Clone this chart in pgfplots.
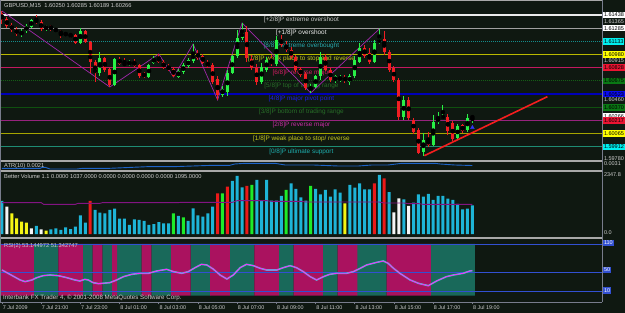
\documentclass[border=0pt]{standalone}
\usepackage{pgfplots}
\pgfplotsset{compat=1.18}
\usepackage{pgfplotstable}
\usepackage{fontspec}
\setmainfont{Liberation Sans}

\definecolor{bg}{RGB}{15,24,17}
\definecolor{sepgray}{RGB}{168,168,168}
\definecolor{axgray}{RGB}{120,124,140}
\definecolor{txt}{RGB}{205,205,205}
\definecolor{bull}{RGB}{40,240,70}
\definecolor{bear}{RGB}{240,30,35}
\definecolor{zz}{RGB}{160,40,170}
\definecolor{trend}{RGB}{245,30,30}
\definecolor{mA}{RGB}{235,235,235}
\definecolor{mB}{RGB}{160,160,160}
\definecolor{mC}{RGB}{20,140,140}
\definecolor{mD}{RGB}{185,185,0}
\definecolor{mE}{RGB}{195,25,95}
\definecolor{mF}{RGB}{20,95,20}
\definecolor{mG}{RGB}{0,0,185}
\definecolor{mH}{RGB}{15,80,15}
\definecolor{mI}{RGB}{150,35,125}
\definecolor{mJ}{RGB}{165,165,0}
\definecolor{mK}{RGB}{30,140,115}
\definecolor{tA}{RGB}{200,200,200}
\definecolor{tB}{RGB}{235,235,235}
\definecolor{tC}{RGB}{40,170,175}
\definecolor{tD}{RGB}{200,200,30}
\definecolor{tE}{RGB}{210,30,100}
\definecolor{tF}{RGB}{40,110,40}
\definecolor{tG}{RGB}{30,30,230}
\definecolor{tI}{RGB}{200,45,165}
\definecolor{tK}{RGB}{30,175,175}
\definecolor{bCy}{RGB}{0,240,240}
\definecolor{bYe}{RGB}{255,255,0}
\definecolor{bRe}{RGB}{235,20,50}
\definecolor{bGr}{RGB}{10,120,20}
\definecolor{bBl}{RGB}{10,10,240}
\definecolor{atrblue}{RGB}{30,100,200}
\definecolor{vcyan}{RGB}{30,180,215}
\definecolor{vwhite}{RGB}{245,245,245}
\definecolor{vyellow}{RGB}{245,245,20}
\definecolor{vred}{RGB}{235,25,25}
\definecolor{vgreen}{RGB}{30,235,40}
\definecolor{vma}{RGB}{130,20,130}
\definecolor{rsim}{RGB}{170,18,95}
\definecolor{rsig}{RGB}{25,105,90}
\definecolor{rsiblue}{RGB}{50,80,210}
\definecolor{rsiline}{RGB}{255,40,255}
\definecolor{rsicyan}{RGB}{60,200,200}

\newcommand{\fM}{\fontsize{6.4}{7}\selectfont}
\newcommand{\fI}{\fontsize{5.7}{6.5}\selectfont}
\newcommand{\fP}{\fontsize{5.5}{6}\selectfont}
\newcommand{\fX}{\fontsize{5.4}{6}\selectfont}
\newcommand{\fC}{\fontsize{6.2}{7}\selectfont}

\tikzset{
  mml/.style={anchor=base, inner sep=0pt, font=\fM, yshift=-6.3pt},
  plab/.style={anchor=west, inner xsep=0.8pt, inner ysep=0pt, minimum height=6.6pt,
     text height=4pt, text depth=0pt, font=\fP, xshift=1pt},
  ilab/.style={anchor=base west, inner sep=0pt, font=\fI, text=txt}
}

\pgfplotstableread{
i O H L C t
0 1.61461 1.61484 1.61334 1.61380 0
1 1.61391 1.61415 1.61287 1.61310 0
2 1.61322 1.61345 1.61241 1.61264 0
3 1.61276 1.61299 1.61195 1.61218 0
4 1.61206 1.61276 1.61183 1.61253 1
5 1.61253 1.61334 1.61230 1.61310 1
6 1.61299 1.61391 1.61287 1.61380 1
7 1.61380 1.61438 1.61334 1.61357 0
8 1.61357 1.61380 1.61253 1.61276 0
9 1.61276 1.61322 1.61253 1.61310 1
10 1.61310 1.61322 1.61253 1.61276 0
11 1.61276 1.61287 1.61241 1.61253 0
12 1.61253 1.61264 1.61172 1.61218 0
13 1.61230 1.61241 1.61195 1.61206 0
14 1.61218 1.61230 1.61172 1.61195 0
15 1.61206 1.61218 1.61102 1.61114 0
16 1.61114 1.61287 1.61102 1.61253 1
17 1.61253 1.61264 1.61114 1.61125 0
18 1.61125 1.61137 1.60767 1.60894 0
19 1.60894 1.60917 1.60663 1.60767 0
20 1.60767 1.61010 1.60732 1.60941 1
21 1.60941 1.60952 1.60779 1.60802 0
22 1.60813 1.60825 1.60605 1.60628 0
23 1.60628 1.60941 1.60617 1.60929 1
24 1.60929 1.60952 1.60860 1.60871 0
25 1.60883 1.60941 1.60848 1.60860 0
26 1.60860 1.60917 1.60848 1.60906 1
27 1.60906 1.60929 1.60837 1.60848 0
28 1.60860 1.60871 1.60709 1.60732 0
29 1.60767 1.60779 1.60709 1.60721 0
30 1.60721 1.60871 1.60709 1.60860 1
31 1.60883 1.60964 1.60871 1.60941 1
32 1.60952 1.60987 1.60883 1.60894 0
33 1.60894 1.60917 1.60813 1.60825 0
34 1.60848 1.60871 1.60790 1.60802 0
35 1.60813 1.60837 1.60721 1.60732 0
36 1.60721 1.60813 1.60709 1.60790 1
37 1.60779 1.60883 1.60756 1.60860 1
38 1.60848 1.60941 1.60825 1.60917 1
39 1.60906 1.61102 1.60883 1.60998 1
40 1.60998 1.61033 1.60917 1.60941 0
41 1.60964 1.60987 1.60871 1.60883 0
42 1.60894 1.60917 1.60825 1.60848 0
43 1.60860 1.60883 1.60640 1.60663 0
44 1.60698 1.60732 1.60455 1.60513 0
45 1.60513 1.60617 1.60490 1.60582 1
46 1.60547 1.60802 1.60501 1.60767 1
47 1.60767 1.60975 1.60756 1.60964 1
48 1.60964 1.61264 1.60941 1.61172 1
49 1.61172 1.61345 1.61149 1.61241 1
50 1.61241 1.61310 1.60894 1.60941 0
51 1.60929 1.60975 1.60802 1.60825 0
52 1.60825 1.60871 1.60628 1.60663 0
53 1.60663 1.60883 1.60640 1.60837 1
54 1.60802 1.60952 1.60779 1.60917 1
55 1.60917 1.60975 1.60848 1.60871 0
56 1.60871 1.61195 1.60848 1.61149 1
57 1.61160 1.61206 1.61068 1.61091 0
58 1.61091 1.61137 1.61010 1.61033 0
59 1.61033 1.61068 1.60929 1.60952 0
60 1.60952 1.60975 1.60779 1.60802 0
61 1.60813 1.60837 1.60721 1.60744 0
62 1.60756 1.60779 1.60571 1.60594 0
63 1.60571 1.60640 1.60536 1.60617 1
64 1.60605 1.60744 1.60594 1.60732 1
65 1.60732 1.61010 1.60686 1.60952 1
66 1.60952 1.60987 1.60790 1.60802 0
67 1.60802 1.60825 1.60663 1.60686 0
68 1.60675 1.60744 1.60651 1.60732 1
69 1.60686 1.60744 1.60663 1.60721 1
70 1.60721 1.60744 1.60651 1.60675 0
71 1.60663 1.60756 1.60628 1.60732 1
72 1.60732 1.60964 1.60709 1.60917 1
73 1.60894 1.61114 1.60883 1.61056 1
74 1.61056 1.61091 1.60941 1.60964 0
75 1.60998 1.61056 1.60871 1.60894 0
76 1.60894 1.61149 1.60883 1.61114 1
77 1.61114 1.61276 1.61102 1.61160 1
78 1.61160 1.61253 1.60975 1.61010 0
79 1.61010 1.61033 1.60779 1.60802 0
80 1.60825 1.60848 1.60663 1.60686 0
81 1.60686 1.60709 1.60224 1.60258 0
82 1.60258 1.60501 1.60224 1.60455 1
83 1.60455 1.60490 1.60224 1.60247 0
84 1.60224 1.60247 1.60062 1.60085 0
85 1.60108 1.60131 1.59831 1.59842 0
86 1.59854 1.60074 1.59807 1.59993 1
87 1.59993 1.60085 1.59912 1.59935 0
88 1.59935 1.60282 1.59923 1.60201 1
89 1.60201 1.60316 1.60178 1.60247 1
90 1.60247 1.60397 1.60235 1.60270 1
91 1.60258 1.60293 1.60050 1.60097 0
92 1.60189 1.60212 1.59981 1.60004 0
93 1.60016 1.60178 1.59993 1.60154 1
94 1.60166 1.60178 1.60074 1.60097 0
95 1.60108 1.60293 1.60085 1.60247 1
96 1.60250 1.60285 1.60189 1.60266 1
}\candles

\pgfplotstableread{
i v vc rb bh
0 1261 0 1 110
1 1044 1 1 110
2 790 2 1 110
3 598 2 1 110
4 471 2 1 110
5 433 2 1 110
6 217 1 1 110
7 306 0 0 110
8 178 1 0 110
9 127 2 0 110
10 178 0 0 110
11 217 0 0 110
12 153 0 1 110
13 255 0 1 110
14 191 0 1 110
15 280 0 1 110
16 713 0 1 110
17 433 0 0 110
18 1261 3 0 110
19 917 0 1 110
20 815 0 1 110
21 790 0 0 110
22 917 0 0 110
23 968 0 1 110
24 586 0 0 110
25 586 0 0 110
26 344 0 0 110
27 560 0 0 110
28 535 0 0 110
29 497 0 1 110
30 344 0 1 110
31 382 0 0 110
32 458 0 0 110
33 407 0 0 110
34 407 0 0 110
35 790 4 1 110
36 688 0 1 110
37 637 4 1 110
38 497 0 1 110
39 980 0 0 110
40 713 0 0 110
41 662 0 0 110
42 790 0 0 110
43 1044 0 1 110
44 1553 3 1 110
45 1553 4 1 110
46 1808 3 1 110
47 2025 0 0 110
48 2216 0 0 110
49 1783 0 0 110
50 1834 3 0 110
51 1872 4 0 110
52 2063 0 1 110
53 1273 0 1 110
54 2063 0 1 110
55 1273 0 1 110
56 1273 0 1 110
57 1452 0 0 110
58 1681 4 0 110
59 1935 0 0 110
60 1719 0 1 110
61 1401 0 1 110
62 1273 0 1 110
63 1834 4 1 110
64 1719 0 1 110
65 1515 0 1 110
66 1681 0 0 110
67 1426 0 0 110
68 1706 0 0 110
69 1579 0 1 110
70 1172 2 1 110
71 1872 0 1 110
72 1770 0 1 110
73 1935 0 0 110
74 1706 0 0 110
75 1706 0 0 110
76 1935 3 0 110
77 2254 0 0 110
78 2126 3 0 110
79 1604 0 1 110
80 828 1 1 110
81 1363 1 1 110
82 1324 0 1 110
83 1070 1 1 110
84 1197 0 1 110
85 1515 0 1 110
86 1426 0 1 110
87 1528 0 1 110
88 1299 0 0 110
89 1452 0 0 110
90 1452 0 0 110
91 1350 0 0 110
92 1299 0 0 110
93 1146 0 0 110
94 942 0 0 110
95 968 0 0 110
96 1095 0 0 110
}\bars

\begin{document}
\begin{tikzpicture}
\useasboundingbox (0pt,0pt) rectangle (625pt,313pt);
\fill[bg] (0pt,0pt) rectangle (625pt,313pt);

%================ MAIN PRICE PANEL
\begin{axis}[at={(0pt,153pt)}, anchor=south west, scale only axis,
  width=602pt, height=160pt, xmin=-0.408, xmax=122.45,
  ymin=1.59761, ymax=1.61611, hide axis, clip=false]
 % Murrey math lines
 \addplot[mA, line width=1.3pt] coordinates {(-0.2,1.61438) (122.45,1.61438)};
 \addplot[mB, line width=0.9pt] coordinates {(-0.2,1.61285) (122.45,1.61285)};
 \addplot[mC, line width=1pt, dash pattern=on 1pt off 1pt] coordinates {(-0.2,1.61133) (122.45,1.61133)};
 \addplot[mD, line width=0.9pt] coordinates {(-0.2,1.60980) (122.45,1.60980)};
 \addplot[mE, line width=0.9pt] coordinates {(-0.2,1.60828) (122.45,1.60828)};
 \addplot[mF, line width=0.9pt, dash pattern=on 1pt off 1pt] coordinates {(-0.2,1.60675) (122.45,1.60675)};
 \addplot[mG, line width=1.2pt] coordinates {(-0.2,1.60523) (122.45,1.60523)};
 \addplot[mH, line width=0.9pt] coordinates {(-0.2,1.60370) (122.45,1.60370)};
 \addplot[mI, line width=0.9pt] coordinates {(-0.2,1.60217) (122.45,1.60217)};
 \addplot[mJ, line width=0.9pt] coordinates {(-0.2,1.60065) (122.45,1.60065)};
 \addplot[mK, line width=0.9pt] coordinates {(-0.2,1.59912) (122.45,1.59912)};
 % Murrey labels
 \node[mml, text=tA] at (axis cs:61.1,1.61438) {[+2/8]P extreme overshoot};
 \node[mml, text=tB] at (axis cs:61.1,1.61285) {[+1/8]P overshoot};
 \node[mml, text=tC] at (axis cs:61.1,1.61133) {[8/8]P extreme overbought};
 \node[mml, text=tD] at (axis cs:61.1,1.60980) {[7/8]P weak place to stop and reverse};
 \node[mml, text=tE] at (axis cs:61.1,1.60828) {[6/8]P reverse major};
 \node[mml, text=tF] at (axis cs:61.1,1.60675) {[5/8]P top of trading range};
 \node[mml, text=tG] at (axis cs:61.1,1.60523) {[4/8]P major pivot point};
 \node[mml, text=tF] at (axis cs:61.1,1.60370) {[3/8]P bottom of trading range};
 \node[mml, text=tI] at (axis cs:61.1,1.60217) {[2/8]P reverse major};
 \node[mml, text=tD] at (axis cs:61.1,1.60065) {[1/8]P weak place to stop/ reverse};
 \node[mml, text=tK] at (axis cs:61.1,1.59912) {[0/8]P ultimate support};
 % zigzag
 \addplot[zz, line width=0.7pt] coordinates {(0,1.61484) (22,1.60605) (32,1.60987) (35,1.60721) (39,1.61102) (44,1.60455) (49,1.61345) (63,1.60536) (77,1.61276)};
 % candles: wicks
 \addplot[only marks, mark=none, restrict expr to domain={\thisrow{t}}{0.5:1.5},
   error bars/.cd, y dir=both, y explicit, error mark=none,
   error bar style={line width=1pt, bull}]
   table[x=i, y expr={(\thisrow{H}+\thisrow{L})/2}, y error expr={(\thisrow{H}-\thisrow{L})/2}] {\candles};
 \addplot[only marks, mark=none, restrict expr to domain={\thisrow{t}}{-0.5:0.5},
   error bars/.cd, y dir=both, y explicit, error mark=none,
   error bar style={line width=1pt, bear}]
   table[x=i, y expr={(\thisrow{H}+\thisrow{L})/2}, y error expr={(\thisrow{H}-\thisrow{L})/2}] {\candles};
 % candles: bodies
 \addplot[only marks, mark=none, restrict expr to domain={\thisrow{t}}{0.5:1.5},
   error bars/.cd, y dir=both, y explicit, error mark=none,
   error bar style={line width=3pt, bull}]
   table[x=i, y expr={(\thisrow{O}+\thisrow{C})/2}, y error expr={abs(\thisrow{C}-\thisrow{O})/2}] {\candles};
 \addplot[only marks, mark=none, restrict expr to domain={\thisrow{t}}{-0.5:0.5},
   error bars/.cd, y dir=both, y explicit, error mark=none,
   error bar style={line width=3pt, bear}]
   table[x=i, y expr={(\thisrow{O}+\thisrow{C})/2}, y error expr={abs(\thisrow{C}-\thisrow{O})/2}] {\candles};
 % trend line and arrow
 \addplot[trend, line width=1.6pt] coordinates {(86.2,1.59811) (111.3,1.60493)};
 \addplot[only marks, mark=triangle*, mark size=2.2pt, color=blue!80!white] coordinates {(96,1.60135)};
 % right price scale
 \node[plab, fill=white, text=black] at (axis cs:122.45,1.61438) {1.61438};
 \node[plab, text=txt] at (axis cs:122.45,1.61365) {1.61365};
 \node[plab, fill=white, text=black] at (axis cs:122.45,1.61285) {1.61285};
 \node[plab, fill=bCy, text=black] at (axis cs:122.45,1.61133) {1.61133};
 \node[plab, fill=bYe, text=black] at (axis cs:122.45,1.60980) {1.60980};
 \node[plab, text=txt] at (axis cs:122.45,1.60915) {1.60915};
 \node[plab, fill=bRe, text=black] at (axis cs:122.45,1.60828) {1.60828};
 \node[plab, fill=bGr, text=black] at (axis cs:122.45,1.60675) {1.60675};
 \node[plab, fill=bBl, text=black] at (axis cs:122.45,1.60523) {1.60523};
 \node[plab, text=txt] at (axis cs:122.45,1.60460) {1.60460};
 \node[plab, fill=bGr, text=black] at (axis cs:122.45,1.60370) {1.60370};
 \node[plab, fill=white, text=black] at (axis cs:122.45,1.60266) {1.60266};
 \node[plab, fill=bRe, text=black] at (axis cs:122.45,1.60217) {1.60217};
 \node[plab, fill=bYe, text=black] at (axis cs:122.45,1.60065) {1.60065};
 \node[plab, fill=bCy, text=black] at (axis cs:122.45,1.59912) {1.59912};
 \node[plab, text=txt] at (axis cs:122.45,1.59780) {1.59780};
\end{axis}

%================ ATR PANEL
\begin{axis}[at={(0pt,143pt)}, anchor=south west, scale only axis,
  width=602pt, height=8pt, xmin=-0.408, xmax=122.45,
  ymin=0.0008, ymax=0.00312, hide axis]
 \addplot[atrblue, line width=0.9pt] coordinates {(0,0.00129) (7.8,0.00129) (8.2,0.00158) (8.8,0.00158) (9.8,0.00109) (15.3,0.00109) (16.5,0.00129) (22,0.00129) (29.6,0.00176) (34.9,0.00176) (43,0.00216) (46.5,0.00216) (47.5,0.00254) (49.6,0.00274) (55.7,0.00274) (57.8,0.00225) (63.5,0.00225) (68.6,0.00196) (72.7,0.00196) (75.5,0.00225) (78.8,0.00225) (81.6,0.00274) (88.4,0.00274) (89.4,0.00254) (92.4,0.00225) (96,0.00210)};
\end{axis}

%================ VOLUME PANEL
\begin{axis}[at={(0pt,77pt)}, anchor=south west, scale only axis,
  width=602pt, height=64pt, xmin=-0.408, xmax=122.45,
  ymin=-76, ymax=2368, hide axis]
 \addplot[ybar, bar width=3pt, bar shift=0pt, draw=none, fill=vcyan, restrict expr to domain={\thisrow{vc}}{-0.5:0.5}] table[x=i, y=v] {\bars};
 \addplot[ybar, bar width=3pt, bar shift=0pt, draw=none, fill=vwhite, restrict expr to domain={\thisrow{vc}}{0.5:1.5}] table[x=i, y=v] {\bars};
 \addplot[ybar, bar width=3pt, bar shift=0pt, draw=none, fill=vyellow, restrict expr to domain={\thisrow{vc}}{1.5:2.5}] table[x=i, y=v] {\bars};
 \addplot[ybar, bar width=3pt, bar shift=0pt, draw=none, fill=vred, restrict expr to domain={\thisrow{vc}}{2.5:3.5}] table[x=i, y=v] {\bars};
 \addplot[ybar, bar width=3pt, bar shift=0pt, draw=none, fill=vgreen, restrict expr to domain={\thisrow{vc}}{3.5:4.5}] table[x=i, y=v] {\bars};
 \addplot[vma, line width=0.9pt] coordinates {(0,1197) (8,1197) (8.5,1133) (15,1133) (15.5,1172) (20,1172) (20.5,1197) (36,1197) (36.5,1210) (47,1210) (48,1273) (54,1273) (55,1248) (61,1248) (62,1222) (77,1222) (78,1184) (82,1184) (83,1159) (85,1159) (86,1133) (96,1133)};
\end{axis}

%================ RSI PANEL
\begin{axis}[at={(0pt,11pt)}, anchor=south west, scale only axis,
  width=602pt, height=63pt, xmin=-0.408, xmax=122.45,
  ymin=-13.4, ymax=120.6,
  axis x line*=bottom, axis y line=none, ytick=\empty,
  x axis line style={draw=axgray, line width=0.8pt},
  xtick={0,8,16,24,32,40,48,56,64,72,80,88,96},
  xticklabels={7 Jul 2009,7 Jul 21:00,7 Jul 23:00,8 Jul 01:00,8 Jul 03:00,8 Jul 05:00,8 Jul 07:00,8 Jul 09:00,8 Jul 11:00,8 Jul 13:00,8 Jul 15:00,8 Jul 17:00,8 Jul 19:00},
  tick align=outside, major tick length=2.5pt, xtick style={draw=axgray, line width=0.6pt},
  xticklabel style={anchor=north west, inner sep=0pt, xshift=0.6pt, yshift=-1pt, font=\fX, text=txt}]
 \addplot[ybar, bar width=4.95pt, bar shift=0pt, draw=none, fill=rsig, restrict expr to domain={\thisrow{rb}}{-0.5:0.5}] table[x=i, y=bh] {\bars};
 \addplot[ybar, bar width=4.95pt, bar shift=0pt, draw=none, fill=rsim, restrict expr to domain={\thisrow{rb}}{0.5:1.5}] table[x=i, y=bh] {\bars};
 \addplot[rsiblue, line width=0.9pt] coordinates {(-0.408,110) (122.45,110)};
 \addplot[rsiblue, line width=0.9pt] coordinates {(-0.408,50) (122.45,50)};
 \addplot[rsiblue, line width=0.9pt] coordinates {(-0.408,10) (122.45,10)};
 \addplot[rsicyan, line width=1.6pt] coordinates {(0,54.7) (1.6,45.5) (3.7,33.4) (4.7,29.9) (6.1,33.4) (7.1,38.4) (8.4,42.6) (9.8,44.0) (11.5,42.6) (13.2,38.4) (14.9,33.4) (15.9,31.3) (16.9,34.8) (17.6,33.4) (18.6,27.7) (19.7,25.6) (22.0,27.7) (23.4,33.4) (24.8,40.5) (26.5,45.5) (28.2,47.6) (29.9,47.6) (31.6,52.6) (33.6,56.1) (35.0,51.1) (36.7,47.6) (38.0,51.1) (39.4,59.6) (40.7,66.7) (41.8,65.3) (43.1,56.8) (44.5,44.0) (45.9,35.5) (47.2,44.0) (48.6,59.6) (49.9,66.7) (51.3,63.9) (52.7,58.2) (54.0,54.7) (56.1,54.7) (57.4,59.6) (58.8,63.9) (60.1,59.6) (61.5,51.1) (62.9,40.5) (64.2,33.4) (65.6,40.5) (66.9,45.5) (68.3,47.6) (70.3,47.6) (71.7,51.1) (73.1,58.2) (74.4,65.3) (76.5,71.0) (77.8,73.8) (78.8,68.9) (79.9,58.2) (81.2,47.6) (83.3,33.4) (85.0,26.3) (87.0,21.3) (88.7,31.3) (90.7,40.5) (92.1,44.0) (94.1,47.6) (95.5,52.6) (96,53.1)};
 \addplot[rsiline, line width=0.8pt] coordinates {(0,54.7) (1.6,45.5) (3.7,33.4) (4.7,29.9) (6.1,33.4) (7.1,38.4) (8.4,42.6) (9.8,44.0) (11.5,42.6) (13.2,38.4) (14.9,33.4) (15.9,31.3) (16.9,34.8) (17.6,33.4) (18.6,27.7) (19.7,25.6) (22.0,27.7) (23.4,33.4) (24.8,40.5) (26.5,45.5) (28.2,47.6) (29.9,47.6) (31.6,52.6) (33.6,56.1) (35.0,51.1) (36.7,47.6) (38.0,51.1) (39.4,59.6) (40.7,66.7) (41.8,65.3) (43.1,56.8) (44.5,44.0) (45.9,35.5) (47.2,44.0) (48.6,59.6) (49.9,66.7) (51.3,63.9) (52.7,58.2) (54.0,54.7) (56.1,54.7) (57.4,59.6) (58.8,63.9) (60.1,59.6) (61.5,51.1) (62.9,40.5) (64.2,33.4) (65.6,40.5) (66.9,45.5) (68.3,47.6) (70.3,47.6) (71.7,51.1) (73.1,58.2) (74.4,65.3) (76.5,71.0) (77.8,73.8) (78.8,68.9) (79.9,58.2) (81.2,47.6) (83.3,33.4) (85.0,26.3) (87.0,21.3) (88.7,31.3) (90.7,40.5) (92.1,44.0) (94.1,47.6) (95.5,52.6) (96,53.1)};
\end{axis}

%================ frame, separators, texts
\fill[sepgray] (0pt,151pt) rectangle (602pt,153pt);
\fill[sepgray] (0pt,141pt) rectangle (602pt,143pt);
\fill[sepgray] (0pt,74pt) rectangle (602pt,76pt);
\draw[sepgray, line width=0.8pt] (0pt,312.6pt) -- (602pt,312.6pt);
\draw[axgray, line width=0.8pt] (602pt,11pt) -- (602pt,313pt);
\draw[axgray, line width=0.6pt] (0.4pt,11pt) -- (0.4pt,313pt);

\node[ilab] at (4pt,305pt) {GBPUSD,M15\hspace{3.5pt}1.60250 1.60285 1.60189 1.60266};
\node[ilab] at (4pt,145pt) {ATR(10) 0.0021};
\node[ilab] at (4pt,134pt) {Better Volume 1.1 0.0000 1037.0000 0.0000 0.0000 0.0000 0.0000 1095.0000};
\node[ilab] at (4pt,65.5pt) {RSI(2) 53.144972 51.342747};
\node[ilab, font=\fC] at (3pt,13.7pt) {Interbank FX Trader 4, © 2001-2008 MetaQuotes Software Corp.};

\node[plab, text=txt] at (602pt,149pt) {0.0031};
\node[plab, text=txt] at (602pt,138pt) {2347.8};
\node[plab, text=txt] at (602pt,80.5pt) {0.0};
\node[plab, fill=rsiblue, text=white] at (602pt,70pt) {110};
\node[plab, fill=rsiblue, text=white] at (602pt,43pt) {50};
\node[plab, fill=rsiblue, text=white] at (602pt,22.3pt) {10};
\end{tikzpicture}
\end{document}
